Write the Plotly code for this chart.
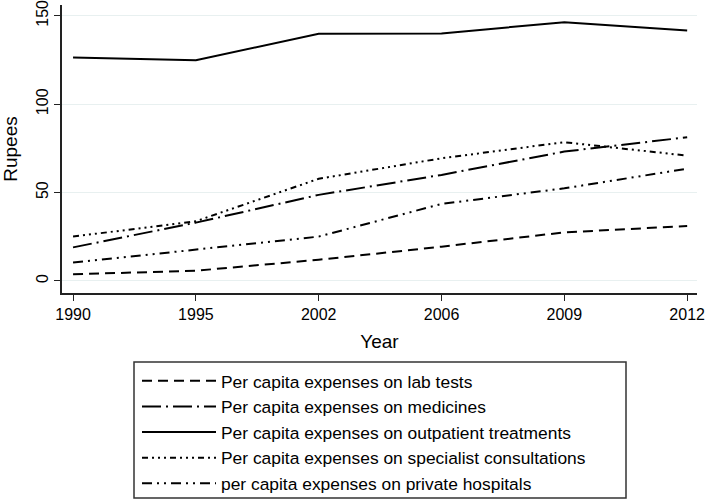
import plotly.graph_objects as go

years = ["1990", "1995", "2002", "2006", "2009", "2012"]
lab_tests = [3.8, 5.8, 12.0, 19.4, 27.5, 31.1]
medicines = [19.0, 33.0, 48.7, 60.0, 73.2, 81.3]
outpatient = [126.4, 124.9, 139.8, 140.0, 146.4, 141.7]
specialist = [25.1, 33.8, 57.8, 69.4, 78.5, 70.9]
private_hosp = [10.4, 17.9, 25.1, 43.6, 52.4, 63.5]

names = [
    "Per capita expenses on lab tests",
    "Per capita expenses on medicines",
    "Per capita expenses on outpatient treatments",
    "Per capita expenses on specialist consultations",
    "per capita expenses on private hospitals",
]
series = [lab_tests, medicines, outpatient, specialist, private_hosp]
dashes = [
    "10px,6px",
    "19px,5px,2px,5px",
    "solid",
    "6px,4px,2px,4px,2px,4px,2px,4px",
    "10px,5px,2px,5px,2px,5px",
]

fig = go.Figure()
for n, s, d in zip(names, series, dashes):
    fig.add_trace(go.Scatter(
        x=years, y=s, mode="lines", name=n,
        line=dict(color="black", width=2, dash=d),
    ))

W, H = 708, 501
ml, mr, mt, mb = 62, 11, 5, 208
pw, ph = W - ml - mr, H - mt - mb

# legend frame (paper coords from pixel positions)
def px_x(p):
    return (p - ml) / pw

def px_y(p):
    return (H - mb - p) / ph

fig.add_shape(type="rect", xref="paper", yref="paper",
              x0=px_x(134), x1=px_x(626), y0=px_y(362), y1=px_y(498),
              line=dict(color="#333", width=1.5), fillcolor="rgba(0,0,0,0)")

fig.update_layout(
    width=W, height=H,
    margin=dict(l=ml, r=mr, t=mt, b=mb, autoexpand=False),
    paper_bgcolor="white", plot_bgcolor="white",
    font=dict(family="Liberation Sans, Arial, sans-serif", size=16, color="black"),
    showlegend=True,
    legend=dict(
        x=px_x(137), xanchor="left",
        y=px_y(363), yanchor="top",
        borderwidth=0, bgcolor="rgba(0,0,0,0)",
        font=dict(size=17.4),
        itemwidth=74,
        traceorder="normal",
    ),
    xaxis=dict(
        type="category", range=[-0.09, 5.08],
        automargin=False,
        showline=True, linecolor="#222", linewidth=1.5,
        ticks="outside", ticklen=6, tickcolor="#222",
        showgrid=False, zeroline=False,
        title=dict(text="Year", standoff=13),
        tickfont=dict(size=16),
        ticklabeloverflow="allow",
    ),
    yaxis=dict(
        range=[-6.8, 156.1],
        automargin=False,
        tickvals=[0, 50, 100, 150],
        showline=True, linecolor="#222", linewidth=1.5,
        ticks="outside", ticklen=6, tickcolor="#222",
        tickangle=-90,
        showgrid=True, gridcolor="#e8f0f0", gridwidth=1,
        zeroline=False,
        title=dict(text="Rupees", standoff=13),
        tickfont=dict(size=16),
        ticklabeloverflow="allow",
    ),
)

fig.write_html("out.html", config={"displayModeBar": False},
               post_script="document.body.style.margin='0';document.body.style.padding='0';")
